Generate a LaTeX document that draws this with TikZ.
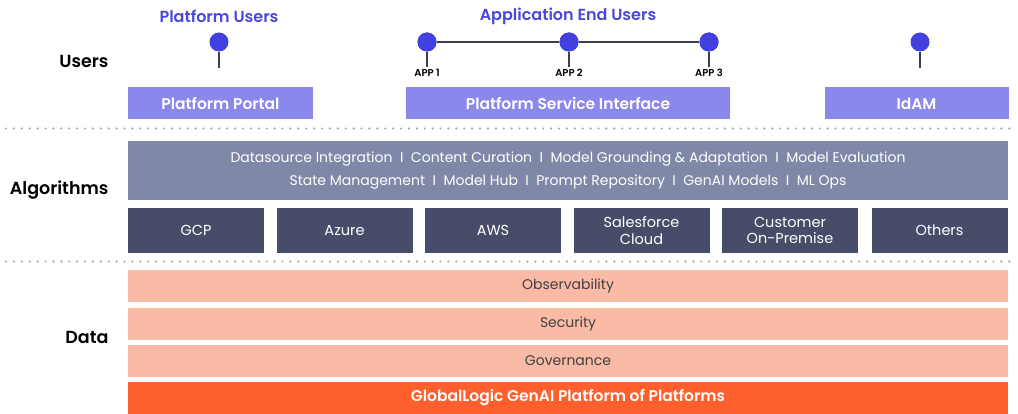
\documentclass[tikz,border=0pt]{standalone}
\usepackage{fontspec}
\setmainfont{Poppins}[BoldFont={Poppins SemiBold}]
\usetikzlibrary{positioning}
\definecolor{headblue}{HTML}{4A47DA}
\definecolor{pinblue}{HTML}{4240DE}
\definecolor{stemgray}{HTML}{3A3F52}
\definecolor{entrybox}{HTML}{8B88EC}
\definecolor{algobox}{HTML}{8088A8}
\definecolor{cloudbox}{HTML}{474D68}
\definecolor{salmon}{HTML}{F9BBA6}
\definecolor{brand}{HTML}{FF5E2D}
\definecolor{dotgray}{HTML}{A4A6AE}
\begin{document}
\begin{tikzpicture}[x=1pt,y=-1pt]
	\tikzstyle{tier} = [anchor=east,font=\bfseries\fontsize{17.5}{20}\selectfont]
	\tikzstyle{head} = [text=headblue,font=\bfseries\fontsize{16}{19}\selectfont]
	\tikzstyle{entry} = [fill=entrybox,text=white,minimum height=32pt,font=\bfseries\fontsize{15.5}{18}\selectfont]
	\tikzstyle{cloud} = [fill=cloudbox,text=white,minimum width=136pt,minimum height=45pt,align=center,inner sep=1pt,font=\fontsize{14.5}{16.5}\selectfont]
	\tikzstyle{band} = [fill=salmon,text=black!75,minimum width=880pt,minimum height=32pt,font=\fontsize{14}{16}\selectfont]
	\tikzstyle{pin} = [circle,fill=pinblue,inner sep=0pt,minimum size=19pt]
	\tikzstyle{stem} = [draw=stemgray,line width=1.8pt]
	\tikzstyle{app} = [font=\bfseries\fontsize{10}{11}\selectfont,inner sep=1pt]
	\tikzstyle{divider} = [dotgray,line width=2.4pt,line cap=round,dash pattern=on 0pt off 7.9pt]
	\useasboundingbox (0,0) rectangle (1018,414);

	% users
	\node (users) [tier] at (112,61) {Users};
	\node (platusers) [head] at (219,16) {Platform Users};
	\node (appusers) [head] at (568,16) {Application End Users};
	\node (portal) [entry,minimum width=185pt] at (220.5,103.5) {Platform Portal};
	\node (service) [entry,minimum width=324pt] at (568,103.5) {Platform Service Interface};
	\node (idam) [entry,minimum width=184pt] at (916.5,103.5) {IdAM};

	\node (pinportal) [pin] at (219,42) {};
	\node (pinapp1) [pin] at (427,42) {};
	\node (pinapp2) [pin] at (569,42) {};
	\node (pinapp3) [pin] at (709,42) {};
	\node (pinidam) [pin] at (920,42) {};
	\coordinate (endportal) at (219,68);
	\coordinate (endapp1) at (427,67);
	\coordinate (endapp2) at (569,67);
	\coordinate (endapp3) at (709,67);
	\coordinate (endidam) at (920,68);
	\node (app1) [app,below=1pt of endapp1] {APP 1};
	\node (app2) [app,below=1pt of endapp2] {APP 2};
	\node (app3) [app,below=1pt of endapp3] {APP 3};

	\draw[stem] (pinapp1) -- (pinapp2);
	\draw[stem] (pinapp2) -- (pinapp3);
	\draw[stem] (pinportal.south) -- (endportal);
	\draw[stem] (pinapp1.south) -- (endapp1);
	\draw[stem] (pinapp2.south) -- (endapp2);
	\draw[stem] (pinapp3.south) -- (endapp3);
	\draw[stem] (pinidam.south) -- (endidam);
	\node[pin] at (pinapp1) {};
	\node[pin] at (pinapp2) {};
	\node[pin] at (pinapp3) {};

	\draw[divider] (6,128.5) -- (1012,128.5);

	% algorithms
	\node (algorithms) [tier] at (112,190) {Algorithms};
	\node (capabilities) [fill=algobox,text=white,minimum width=880pt,minimum height=59pt,align=center,font=\fontsize{14}{23}\selectfont] at (568,170.5)
		{Datasource Integration \ I \ Content Curation \ I \ Model Grounding \& Adaptation \ I \ Model Evaluation\\
		 State Management \ I \ Model Hub \ I \ Prompt Repository \ I \ GenAI Models \ I \ ML Ops};
	\node (gcp) [cloud] at (196,230.5) {GCP};
	\node (azure) [cloud] at (344.5,230.5) {Azure};
	\node (aws) [cloud] at (493,230.5) {AWS};
	\node (salesforce) [cloud] at (641.5,230.5) {Salesforce\\Cloud};
	\node (onprem) [cloud] at (790,230.5) {Customer\\On-Premise};
	\node (others) [cloud] at (939.5,230.5) {Others};

	\draw[divider] (6,261.5) -- (1012,261.5);

	% data
	\node (data) [tier] at (112,337) {Data};
	\node (observability) [band] at (568,286) {Observability};
	\node (security) [band] at (568,324) {Security};
	\node (governance) [band] at (568,361) {Governance};
	\node (platform) [band,fill=brand,text=white,font=\bfseries\fontsize{15.5}{18}\selectfont] at (568,398) {GlobalLogic GenAI Platform of Platforms};
\end{tikzpicture}
\end{document}
